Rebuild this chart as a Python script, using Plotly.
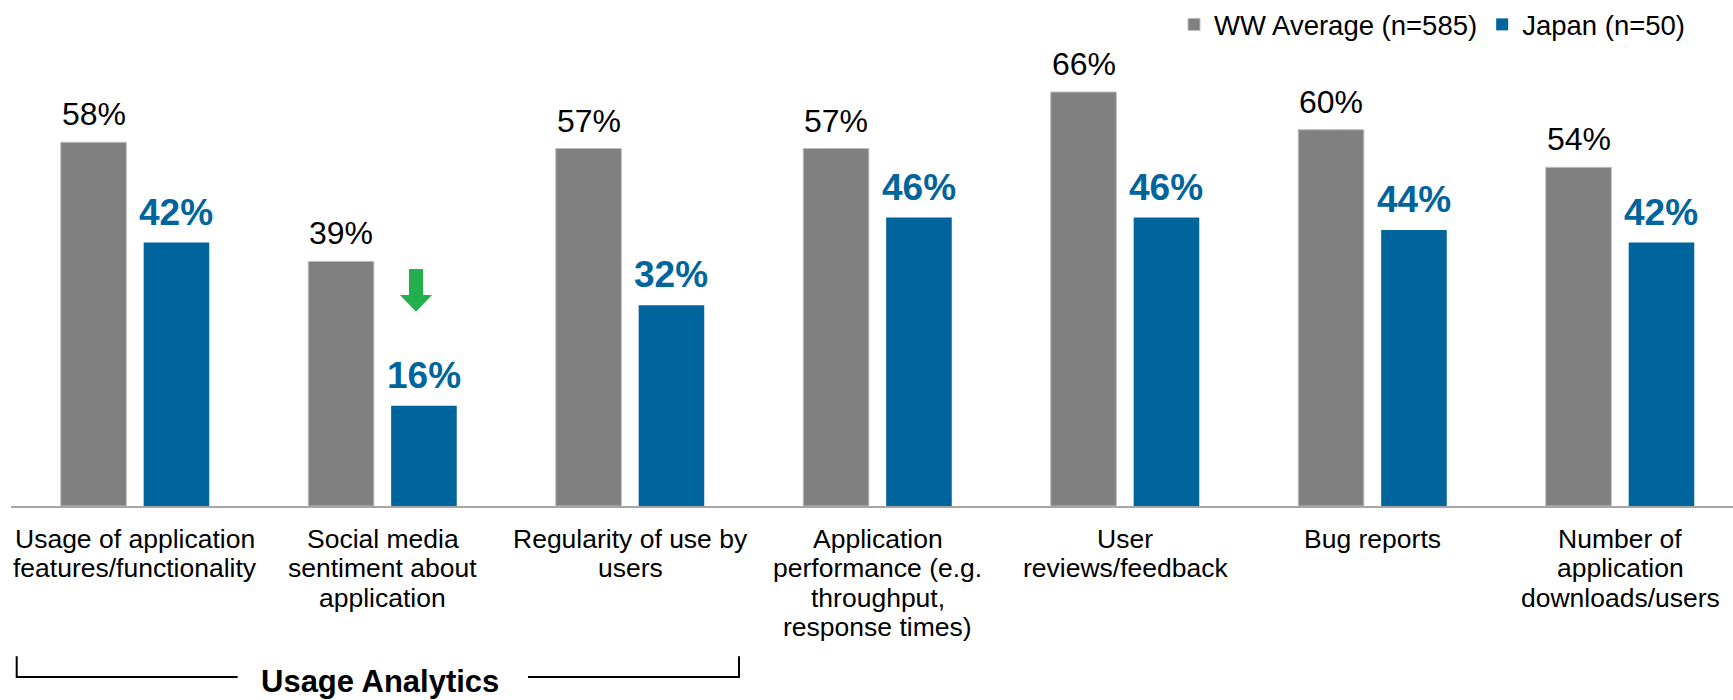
import plotly.graph_objects as go

# ---- data ----
categories = [
    "Usage of application<br>features/functionality",
    "Social media<br>sentiment about<br>application",
    "Regularity of use by<br>users",
    "Application<br>performance (e.g.<br>throughput,<br>response times)",
    "User<br>reviews/feedback",
    "Bug reports",
    "Number of<br>application<br>downloads/users",
]
ww_values = [58, 39, 57, 57, 66, 60, 54]
japan_values = [42, 16, 32, 46, 46, 44, 42]
series_names = ["WW Average (n=585)", "Japan (n=50)"]
group_label = "Usage Analytics"

# ---- style ----
GRAY = "#808080"
BLUE = "#00659C"
GREEN = "#21B04B"
FONT = "Arial, Liberation Sans, sans-serif"
W = 1733
H = 700
ML, MR, MT, MB = 11, 0, 60, 194
PW = W - ML - MR
PH = H - MT - MB
BAR_W = 0.265
OFF_WW = -0.300
OFF_JP = 0.035
STEP = 247.5          # px per category
C0 = 135              # px of first category centre
PX_PER_PCT = 6.3

x_idx = list(range(len(categories)))
x_range = [-(C0 - ML) / STEP, (W - MR - C0) / STEP]
y_max = PH / PX_PER_PCT

fig = go.Figure()
fig.add_trace(go.Bar(
    x=x_idx, y=ww_values, name=series_names[0],
    width=BAR_W, offset=OFF_WW,
    marker=dict(color=GRAY, line=dict(color="#BDBDBD", width=1)),
    hoverinfo="skip",
))
fig.add_trace(go.Bar(
    x=x_idx, y=japan_values, name=series_names[1],
    width=BAR_W, offset=OFF_JP,
    marker=dict(color=BLUE, line=dict(width=0)),
    hoverinfo="skip",
))

annotations = []
# value labels
for i, v in zip(x_idx, ww_values):
    annotations.append(dict(
        x=i + OFF_WW + BAR_W / 2, y=v, xref="x", yref="y",
        text=f"{v}%", showarrow=False, yanchor="bottom", yshift=8,
        font=dict(family=FONT, size=32, color="#000000"),
    ))
for i, v in zip(x_idx, japan_values):
    annotations.append(dict(
        x=i + OFF_JP + BAR_W / 2, y=v, xref="x", yref="y",
        text=f"<b>{v}%</b>", showarrow=False, yanchor="bottom", yshift=8,
        font=dict(family=FONT, size=37, color=BLUE),
    ))


def py2paper(py):
    return (H - MB - py) / PH


def px2paper(px):
    return (px - ML) / PW


# category labels, one annotation per line for tight line spacing
LINE0 = 539
LINE_STEP = 29.6
for i, cat in zip(x_idx, categories):
    for k, line in enumerate(cat.split("<br>")):
        annotations.append(dict(
            x=i, y=py2paper(LINE0 + k * LINE_STEP), xref="x", yref="paper",
            text=line, showarrow=False, yanchor="middle", xanchor="center",
            font=dict(family=FONT, size=26.5, color="#000000"),
        ))

# group label
annotations.append(dict(
    x=px2paper(380), y=py2paper(682), xref="paper", yref="paper",
    text=f"<b>{group_label}</b>", showarrow=False, yanchor="middle", xanchor="center",
    font=dict(family=FONT, size=31, color="#000000"),
))

shapes = []
# bracket
top, bot = py2paper(657), py2paper(677.7)
shapes.append(dict(
    type="path", xref="paper", yref="paper",
    path=f"M {px2paper(16.7)},{top} L {px2paper(16.7)},{bot} L {px2paper(237.7)},{bot}",
    line=dict(color="#000000", width=2),
))
shapes.append(dict(
    type="path", xref="paper", yref="paper",
    path=f"M {px2paper(528)},{bot} L {px2paper(739)},{bot} L {px2paper(739)},{top}",
    line=dict(color="#000000", width=2),
))


# green down arrow
def dy(py):
    return (H - MB - py) / PX_PER_PCT


def dx(px):
    return (px - C0) / STEP


arrow = [(409, 268), (423, 268), (423, 294), (432, 294), (416, 311), (400, 294), (409, 294)]
path = "M " + " L ".join(f"{dx(a)},{dy(b)}" for a, b in arrow) + " Z"
shapes.append(dict(
    type="path", xref="x", yref="y", path=path,
    fillcolor=GREEN, line=dict(width=0), layer="above",
))

fig.update_layout(
    width=W, height=H,
    margin=dict(l=ML, r=MR, t=MT, b=MB, pad=0),
    paper_bgcolor="white", plot_bgcolor="white",
    barmode="overlay",
    font=dict(family=FONT, size=26, color="#000000"),
    showlegend=True,
    legend=dict(
        orientation="h", x=px2paper(1690), xanchor="right",
        y=py2paper(22), yanchor="middle",
        font=dict(family=FONT, size=27.5, color="#000000"),
        bgcolor="rgba(0,0,0,0)", itemclick=False, itemdoubleclick=False,
        traceorder="normal",
    ),
    xaxis=dict(
        range=x_range, showticklabels=False, ticks="", showgrid=False,
        zeroline=False, showline=True, linecolor="#A6A6A6", linewidth=2,
        fixedrange=True,
    ),
    yaxis=dict(
        range=[0, y_max], visible=False, showgrid=False, zeroline=False,
        fixedrange=True,
    ),
    annotations=annotations,
    shapes=shapes,
)

fig.write_html(
    "out.html",
    config=dict(displayModeBar=False),
    post_script="document.body.style.margin='0';document.body.style.padding='0';",
)
